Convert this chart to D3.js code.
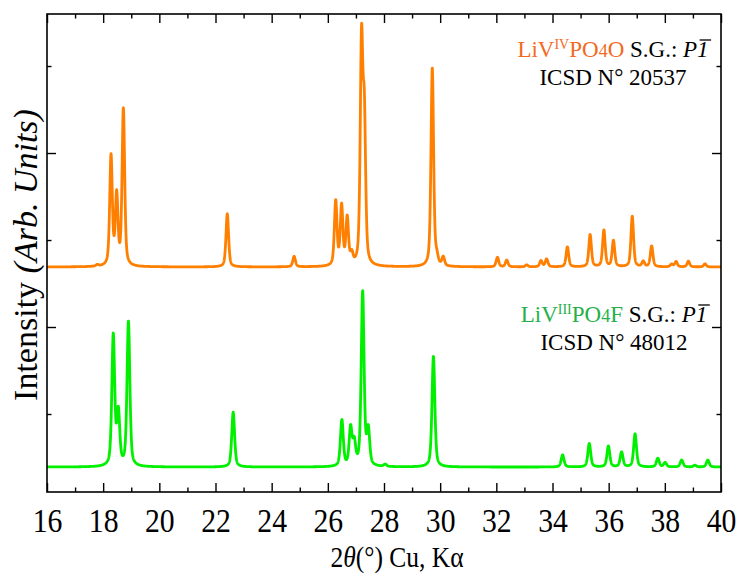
<!DOCTYPE html>
<html><head><meta charset="utf-8">
<script src="https://cdn.jsdelivr.net/npm/d3@7"></script>
<style>body{margin:0;background:#fff}</style>
</head><body>
<svg id="c" width="739" height="574" xmlns="http://www.w3.org/2000/svg"></svg>
<script>
// ---------- data ----------
const xMajorTicks = [16,18,20,22,24,26,28,30,32,34,36,38,40];
const xMinorTicks = [17,19,21,23,25,27,29,31,33,35,37,39];
const yMajorTicks = [2,4];
const yMinorTicks = [1,3,5];

// LiV(IV)PO4O, ICSD 20537 (orange) — peak positions (2θ) and heights (axis units)
const orangePeakPos = [17.79,18.28,18.48,18.72,22.42,24.80,26.28,26.49,26.69,26.85,27.20,27.30,29.72,29.88,30.11,32.04,32.37,33.08,33.59,33.79,34.53,35.34,35.83,36.17,36.84,37.23,37.53,38.24,38.40,38.84,39.43];
const orangePeakInt = [0.017,1.26,0.80,1.80,0.61,0.12,0.74,0.68,0.54,0.12,2.51,1.60,2.28,0.08,0.10,0.11,0.077,0.023,0.07,0.09,0.23,0.37,0.42,0.30,0.58,0.06,0.24,0.03,0.06,0.065,0.035];
const orangeOffset = 2.69;
const orangeFWHM = 0.11;

// LiV(III)PO4F, ICSD 48012 (green)
const greenPeakPos = [18.36,18.54,18.90,22.63,26.50,26.81,26.94,27.24,27.44,28.04,29.76,34.36,35.31,35.99,36.46,36.94,37.75,38.01,38.60,39.07,39.53];
const greenPeakInt = [1.50,0.60,1.66,0.63,0.53,0.43,0.26,2.00,0.40,0.025,1.27,0.14,0.27,0.24,0.17,0.38,0.10,0.05,0.08,0.02,0.08];
const greenOffset = 0.39;
const greenFWHM = 0.12;

// ---------- layout ----------
const svg = d3.select("#c");
const L = 47, R = 721, T = 14, B = 492;
const x = d3.scaleLinear().domain([16,40]).range([L,R]);
const y = d3.scaleLinear().domain([0.1034,5.598]).range([B,T]);

function profile(pos, inten, fwhm, offset){
  const hw = fwhm/2, eta = 0.5, pts = [];
  for (let i = 0; i <= 6000; i++){
    const t = 16 + i*0.004;
    let s = 0;
    for (let k = 0; k < pos.length; k++){
      const u = (t-pos[k])/hw, u2 = u*u;
      s += inten[k]*(eta/(1+u2) + (1-eta)*Math.exp(-Math.LN2*u2));
    }
    pts.push([t, offset + s]);
  }
  return pts;
}

svg.append("clipPath").attr("id","clip").append("rect")
  .attr("x",L).attr("y",T).attr("width",R-L).attr("height",B-T);

const line = d3.line().x(d=>x(d[0])).y(d=>y(d[1]));
const g = svg.append("g").attr("clip-path","url(#clip)");
g.append("path").datum(profile(greenPeakPos,greenPeakInt,greenFWHM,greenOffset))
  .attr("d",line).attr("fill","none").attr("stroke","#00f000").attr("stroke-width",2.8).attr("stroke-linejoin","round");
g.append("path").datum(profile(orangePeakPos,orangePeakInt,orangeFWHM,orangeOffset))
  .attr("d",line).attr("fill","none").attr("stroke","#ff8000").attr("stroke-width",2.8).attr("stroke-linejoin","round");

// ---------- axes ----------
const serif = "'Liberation Serif','Times New Roman',serif";
function styleAxis(sel){ sel.select(".domain").remove(); sel.selectAll("line").attr("stroke","#000").attr("stroke-width",1.4); }

const bx = svg.append("g").attr("transform",`translate(0,${B})`)
  .call(d3.axisBottom(x).tickValues(xMajorTicks).tickSize(-9).tickFormat(d3.format("d")));
styleAxis(bx);
bx.selectAll("text").attr("dy",null).attr("y",40).attr("fill","#000")
  .style("font-family",serif).style("font-size","33px").attr("transform","scale(0.9,1)");
svg.append("g").attr("transform",`translate(0,${B})`)
  .call(d3.axisBottom(x).tickValues(xMinorTicks).tickSize(-4.5).tickFormat("")).call(styleAxis);
svg.append("g").attr("transform",`translate(0,${T})`)
  .call(d3.axisTop(x).tickValues(xMajorTicks).tickSize(-9).tickFormat("")).call(styleAxis);
svg.append("g").attr("transform",`translate(0,${T})`)
  .call(d3.axisTop(x).tickValues(xMinorTicks).tickSize(-4.5).tickFormat("")).call(styleAxis);
svg.append("g").attr("transform",`translate(${L},0)`)
  .call(d3.axisLeft(y).tickValues(yMajorTicks).tickSize(-9).tickFormat("")).call(styleAxis);
svg.append("g").attr("transform",`translate(${L},0)`)
  .call(d3.axisLeft(y).tickValues(yMinorTicks).tickSize(-4.5).tickFormat("")).call(styleAxis);
svg.append("g").attr("transform",`translate(${R},0)`)
  .call(d3.axisRight(y).tickValues(yMajorTicks).tickSize(-9).tickFormat("")).call(styleAxis);
svg.append("g").attr("transform",`translate(${R},0)`)
  .call(d3.axisRight(y).tickValues(yMinorTicks).tickSize(-4.5).tickFormat("")).call(styleAxis);

svg.append("rect").attr("x",L).attr("y",T).attr("width",R-L).attr("height",B-T)
  .attr("fill","none").attr("stroke","#000").attr("stroke-width",1.6);

// ---------- titles ----------
const xt = svg.append("text").attr("transform","translate(397,567) scale(0.88,1)")
  .attr("text-anchor","middle").style("font-family",serif).style("font-size","29px").attr("fill","#000");
xt.append("tspan").text("2");
xt.append("tspan").style("font-style","italic").text("θ");
xt.append("tspan").text("(°) Cu, Kα");

const yt = svg.append("text").attr("transform","translate(37,255) rotate(-90)")
  .attr("text-anchor","middle").style("font-family",serif).style("font-size","34px").attr("fill","#000");
yt.append("tspan").text("Intensity ");
yt.append("tspan").style("font-style","italic").text("(Arb. Units)");

// ---------- legends ----------
function legend(cx, by, color, sup, last, icsd){
  const t = svg.append("text").attr("x",cx).attr("y",by).attr("text-anchor","middle")
    .style("font-family",serif).style("font-size","23px");
  t.append("tspan").attr("fill",color).text("LiV");
  t.append("tspan").attr("fill",color).style("font-size","14px").attr("dy",-8).text(sup);
  t.append("tspan").attr("fill",color).attr("dy",8).text("PO");
  t.append("tspan").attr("fill",color).style("font-size","18px").text("4");
  t.append("tspan").attr("fill",color).text(last);
  t.append("tspan").attr("fill","#000").text(" S.G.: ");
  t.append("tspan").attr("fill","#000").style("font-style","italic").text("P1");
  const node = t.node();
  const n = node.getNumberOfChars();
  const e = node.getExtentOfChar(n-1);
  svg.append("line").attr("x1",e.x+2.5).attr("x2",e.x+e.width+2.5)
    .attr("y1",by-17).attr("y2",by-17).attr("stroke","#000").attr("stroke-width",1.3);
  svg.append("text").attr("x",cx).attr("y",by+28).attr("text-anchor","middle")
    .style("font-family",serif).style("font-size","23px").attr("fill","#000").text(icsd);
}
legend(613, 57, "#f26a21", "IV", "O", "ICSD N° 20537");
legend(614, 322, "#27b04a", "III", "F", "ICSD N° 48012");
</script>
</body></html>
